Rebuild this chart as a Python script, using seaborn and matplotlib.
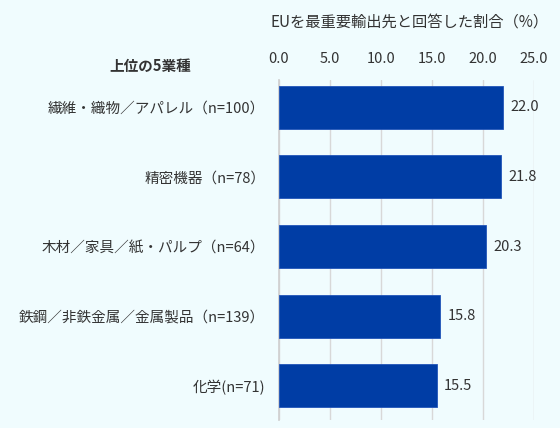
import pandas as pd
import matplotlib
matplotlib.use("Agg")
import matplotlib.pyplot as plt
import seaborn as sns

# chart data
industries = [
    "繊維・織物／アパレル（n=100）",
    "精密機器（n=78）",
    "木材／家具／紙・パルプ（n=64）",
    "鉄鋼／非鉄金属／金属製品（n=139）",
    "化学(n=71)",
]
shares = [22.0, 21.8, 20.3, 15.8, 15.5]
x_ticks = [0, 5, 10, 15, 20, 25]

df = pd.DataFrame({"industry": industries, "share": shares})

sns.set_theme(style="white")
plt.rcParams["font.family"] = ["Noto Sans CJK JP", "DejaVu Sans"]

bg = "#f0fcfe"
bar_color = "#003da5"
text_color = "#333333"

fig = plt.figure(figsize=(5.6, 4.28), dpi=100, facecolor=bg)
ax = fig.add_axes([279 / 560, 1 - 420 / 428, (534 - 279) / 560, 340 / 428])
ax.set_facecolor(bg)

sns.barplot(data=df, x="share", y="industry", orient="h", color=bar_color,
            saturation=1, width=0.62, edgecolor="#2255b8", linewidth=0.6,
            ax=ax, zorder=3)

ax.set_xlim(0, 25)
ax.set_ylim(4.49, -0.39)
ax.set_xticks(x_ticks)
ax.set_xticklabels([f"{t:.1f}" for t in x_ticks])
ax.xaxis.tick_top()
ax.tick_params(axis="x", length=0, pad=10, labelsize=10.5, labelcolor=text_color)
ax.tick_params(axis="y", length=0, pad=10, labelsize=10.5, labelcolor=text_color)
ax.grid(axis="x", color="#d8d8d8", linewidth=1, zorder=0)
ax.grid(axis="y", visible=False)
for s in ["top", "right", "bottom"]:
    ax.spines[s].set_visible(False)
ax.spines["left"].set_color("#d0d0d0")
ax.set_xlabel("")
ax.set_ylabel("")

for i, v in enumerate(shares):
    ax.text(v + 0.7, i, f"{v:.1f}", va="center", ha="left", fontsize=10.5,
            color=text_color, clip_on=False)

fig.text(410 / 560, 1 - 22 / 428, "EUを最重要輸出先と回答した割合（%）",
         ha="center", va="center", fontsize=11, color=text_color)
fig.text(150 / 560, 1 - 66 / 428, "上位の5業種", ha="center", va="center",
         fontsize=10.5, fontweight="bold", color=text_color)

fig.savefig("out.png", dpi=100, facecolor=bg)
